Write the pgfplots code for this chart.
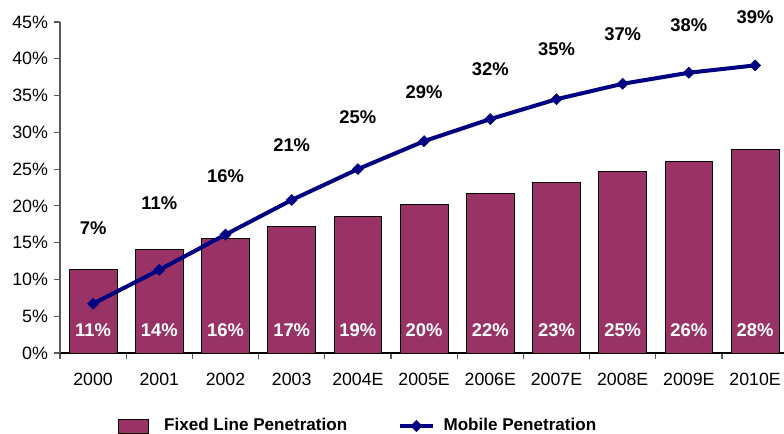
\documentclass[border=0pt]{standalone}
\usepackage{pgfplots}
\pgfplotsset{compat=1.18}
\usepackage{fontspec}
\setmainfont{Liberation Sans}
\definecolor{barcol}{HTML}{993366}
\definecolor{navyc}{HTML}{000080}
\pgfplotsset{
  barleg/.style={legend image code/.code={\draw[fill=barcol, draw=black, line width=0.6pt] (0pt,-5.2pt) rectangle (22.5pt,5.2pt); \path (32.25pt,0pt);}},
  lineleg/.style={legend image code/.code={\draw[navyc, line width=3pt] (0pt,0pt) -- (24.75pt,0pt); \draw[navyc, fill=navyc, line width=0.5pt] plot[mark=square*, mark size=2.9pt, mark options={rotate=45}] coordinates {(12.4pt,0pt)}; \path (29.25pt,0pt);}},
}
\begin{document}
\fontsize{12.8}{15}\selectfont
\begin{tikzpicture}
\begin{axis}[
  at={(0,0)}, anchor=south west,
  scale only axis, width=543pt, height=248.25pt,
  xmin=-0.5, xmax=10.437, ymin=0, ymax=45,
  clip=false,
  axis x line*=bottom, axis y line*=left,
  x axis line style={black, line width=0.8pt},
  y axis line style={gray!70!black, line width=0.8pt},
  tick align=outside,
  xtick={0,...,10},
  xticklabels={2000,2001,2002,2003,2004E,2005E,2006E,2007E,2008E,2009E,2010E},
  minor xtick={-0.5,0.5,...,10.5},
  major x tick style={draw=none},
  minor x tick style={draw=gray!70!black, line width=0.8pt},
  minor tick length=4.5pt,
  ytick={0,5,...,45},
  yticklabels={0\%,5\%,10\%,15\%,20\%,25\%,30\%,35\%,40\%,45\%},
  y tick style={draw=gray!70!black, line width=0.8pt},
  major tick length=4.5pt,
  xticklabel style={font=\fontsize{13.3}{15}\selectfont, yshift=-6pt},
  yticklabel style={font=\fontsize{13.4}{15}\selectfont},
  legend style={at={(0.412,-0.2205)}, anchor=center, draw=none,
    font=\fontsize{12.8}{15}\selectfont\bfseries,
    /tikz/every even column/.append style={column sep=36pt}},
  legend columns=2,
  legend cell align=left,
]
\addplot[ybar, bar width=0.72, fill=barcol, draw=black, line width=0.6pt, barleg]
  coordinates {(0,11.3) (1,14.1) (2,15.6) (3,17.2) (4,18.6) (5,20.2) (6,21.7) (7,23.2) (8,24.7) (9,26.1) (10,27.7)};
\addlegendentry{Fixed Line Penetration}
\addplot[navyc, line width=3pt, mark=square*, mark size=2.9pt,
  mark options={solid, fill=navyc, line width=0.5pt, rotate=45}, lineleg]
  coordinates {(0,6.7) (1,11.3) (2,16.1) (3,20.8) (4,25.0) (5,28.8) (6,31.8) (7,34.5) (8,36.6) (9,38.1) (10,39.1)};
\addlegendentry{Mobile Penetration}
% labels above the line
\addplot[draw=none, mark=none, forget plot, nodes near coords, point meta=explicit symbolic,
  every node near coord/.append style={anchor=center, black, font=\fontsize{13.8}{15}\selectfont\bfseries, inner sep=0pt}]
  table[meta=lbl] {
x y lbl
0 17.0 7\%
1 20.4 11\%
2 24.0 16\%
3 28.2 21\%
4 32.0 25\%
5 35.4 29\%
6 38.6 32\%
7 41.3 35\%
8 43.3 37\%
9 44.5 38\%
10 45.7 39\%
};
% labels inside bars
\addplot[draw=none, mark=none, forget plot, nodes near coords, point meta=explicit symbolic,
  every node near coord/.append style={anchor=center, white, font=\fontsize{13.8}{15}\selectfont\bfseries, inner sep=0pt}]
  table[meta=lbl] {
x y lbl
0 3.1 11\%
1 3.1 14\%
2 3.1 16\%
3 3.1 17\%
4 3.1 19\%
5 3.1 20\%
6 3.1 22\%
7 3.1 23\%
8 3.1 25\%
9 3.1 26\%
10 3.1 28\%
};
\end{axis}
\pgfresetboundingbox
\useasboundingbox (-45pt,-60.75pt) rectangle (543pt,264.75pt);
\end{tikzpicture}
\end{document}
